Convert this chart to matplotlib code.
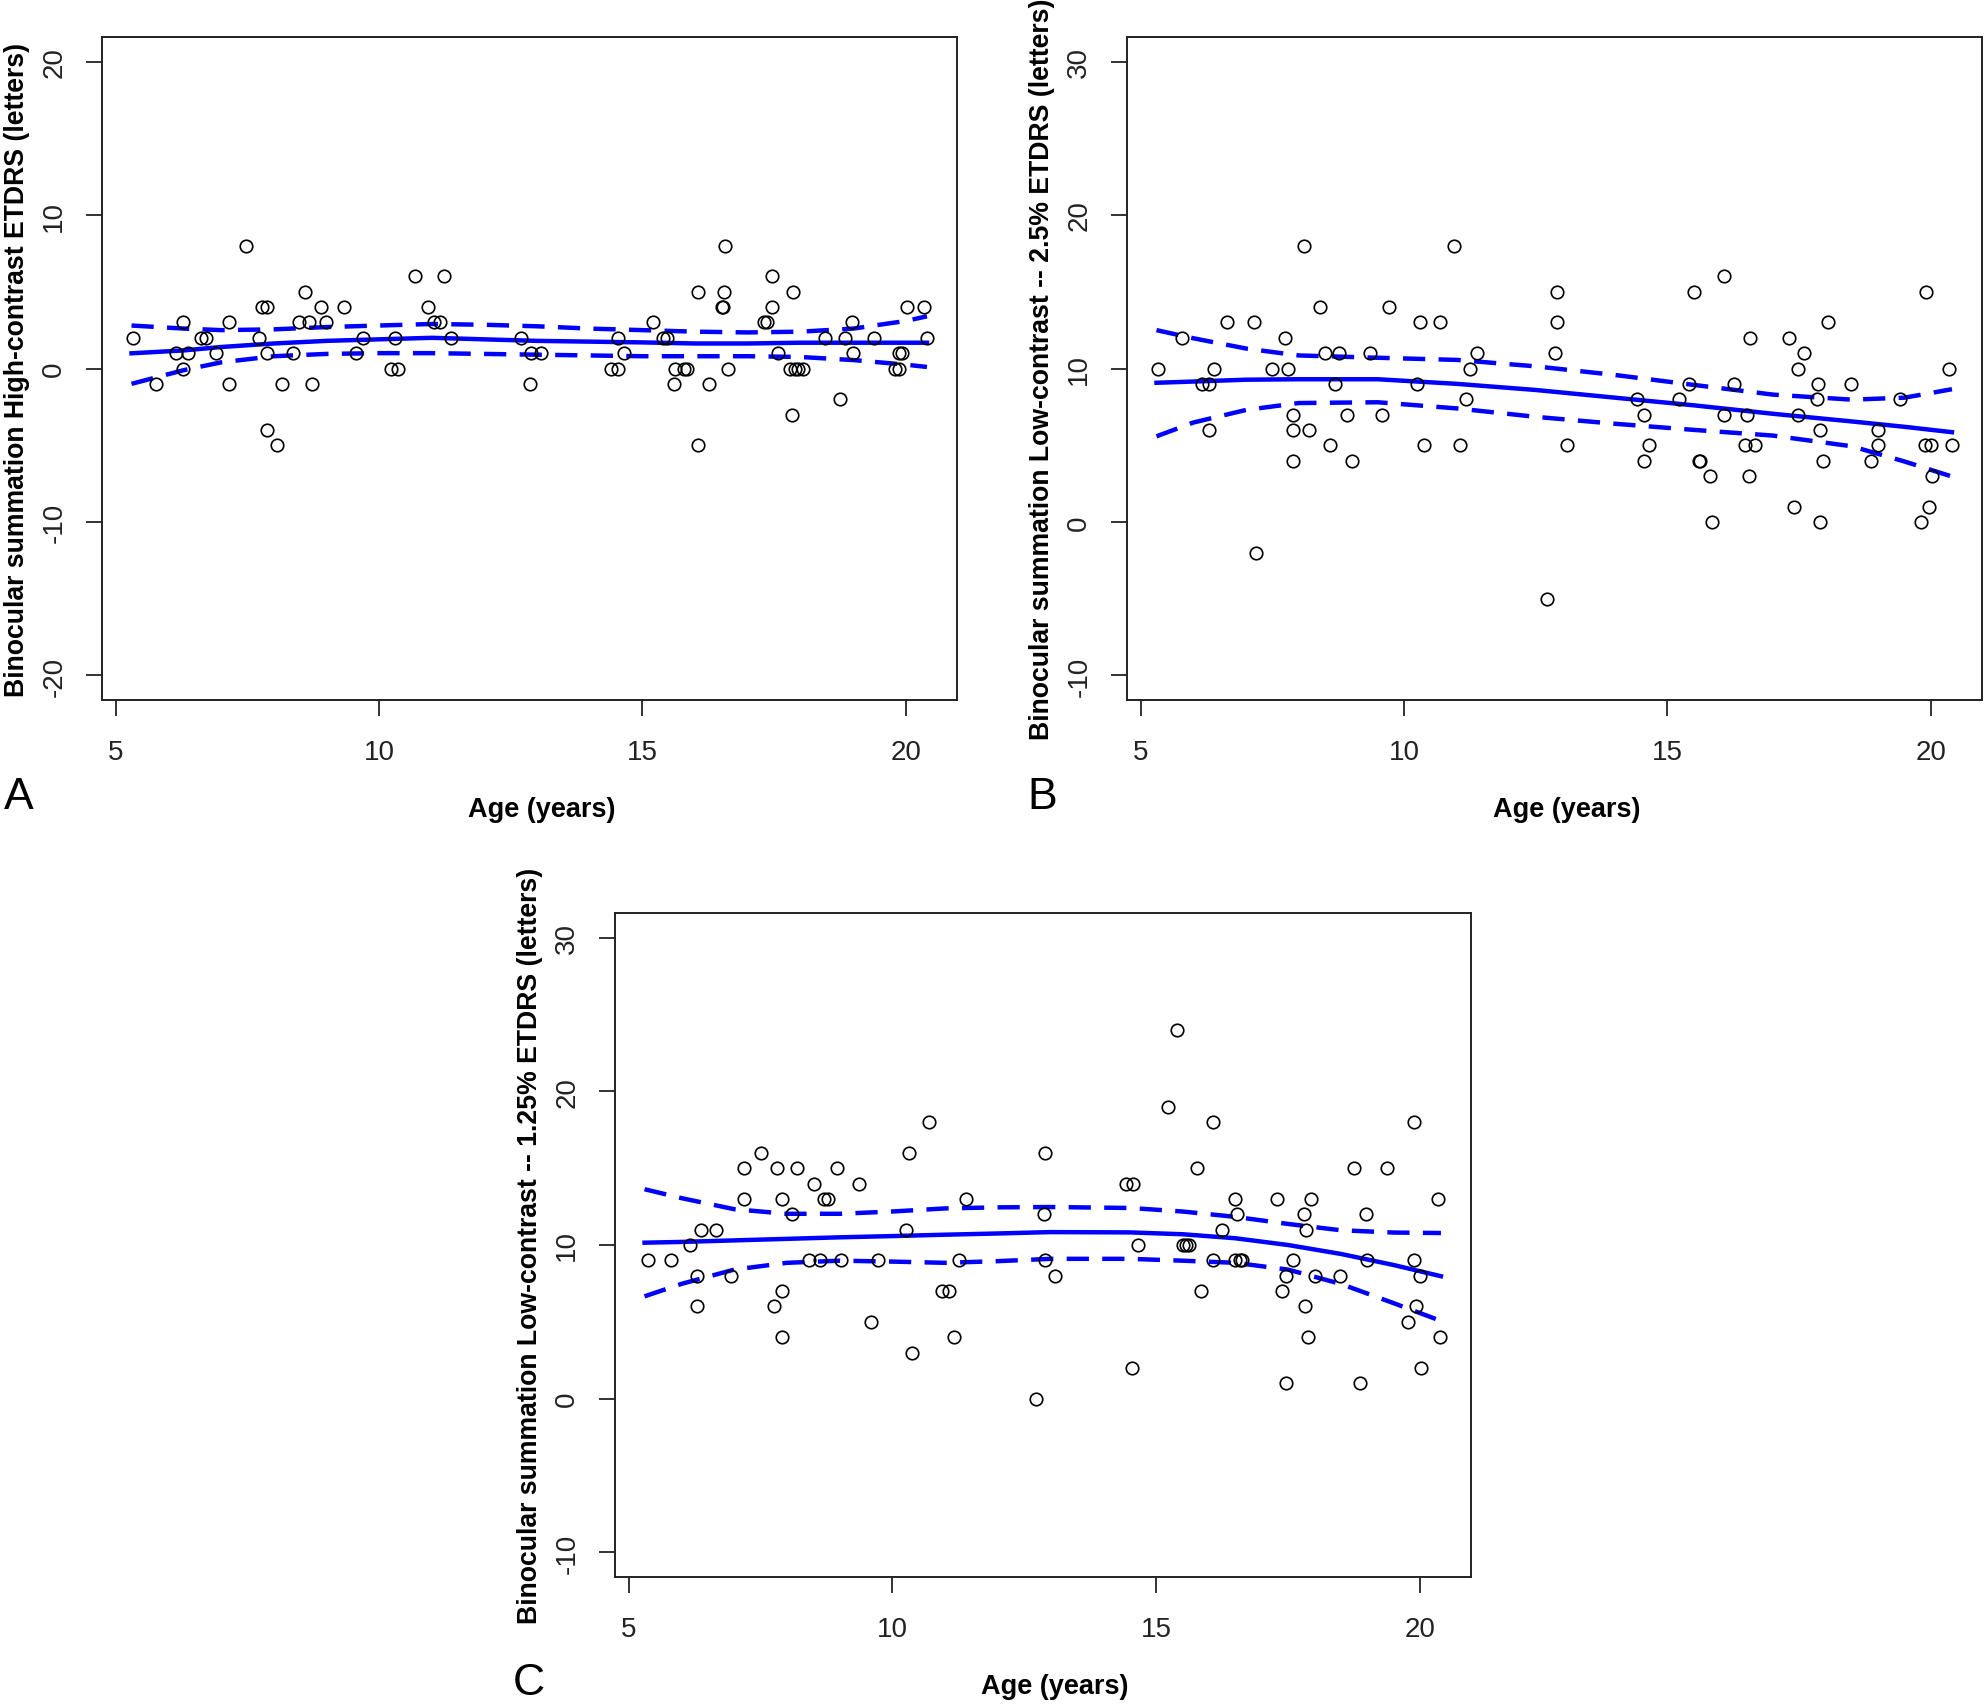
import numpy as np
import matplotlib.pyplot as plt

plt.rcParams['font.family'] = ['Liberation Sans', 'DejaVu Sans']
plt.rcParams['axes.unicode_minus'] = False

# Panel A - high-contrast ETDRS
age_a = [5.32, 5.76, 6.14, 6.27, 6.27, 6.37, 6.61, 6.71, 6.90, 7.15, 7.15, 7.47, 7.72, 7.77, 7.88,
         7.88, 7.88, 8.07, 8.16, 8.37, 8.48, 8.59, 8.67, 8.73, 8.90, 8.99, 9.34, 9.57, 9.69, 10.22,
         10.30, 10.35, 10.68, 10.93, 11.05, 11.15, 11.24, 11.37, 12.70, 12.86, 12.89, 13.07, 14.41,
         14.54, 14.54, 14.64, 15.20, 15.39, 15.46, 15.59, 15.62, 15.78, 15.84, 16.05, 16.05, 16.26,
         16.50, 16.52, 16.54, 16.56, 16.62, 17.30, 17.37, 17.45, 17.45, 17.57, 17.83, 17.86, 17.80,
         17.90, 17.95, 18.04, 18.46, 18.74, 18.85, 18.97, 19.00, 19.39, 19.79, 19.87, 19.87, 19.93,
         20.03, 20.35, 20.40]
bs_a = [2, -1, 1, 3, 0, 1, 2, 2, 1, 3, -1, 8, 2, 4, 4, 1, -4, -5, -1, 1, 3, 5, 3, -1, 4, 3, 4, 1, 2,
        0, 2, 0, 6, 4, 3, 3, 6, 2, 2, -1, 1, 1, 0, 0, 2, 1, 3, 2, 2, -1, 0, 0, 0, 5, -5, -1, 4, 4, 5,
        8, 0, 3, 3, 4, 6, 1, -3, 5, 0, 0, 0, 0, 2, -2, 2, 3, 1, 2, 0, 0, 1, 1, 4, 4, 2]
fit_x_a = [5.3, 6.3, 7.0, 8.0, 9.0, 10.0, 11.0, 12.0, 13.0, 14.0, 15.0, 16.0, 17.0, 18.0, 19.0, 20.0, 20.4]
fit_a = [0.99, 1.18, 1.4, 1.63, 1.8, 1.9, 2.0, 1.9, 1.8, 1.75, 1.7, 1.63, 1.63, 1.68, 1.68, 1.68, 1.68]
upper_a = [2.8, 2.6, 2.5, 2.55, 2.7, 2.8, 2.9, 2.85, 2.75, 2.6, 2.5, 2.4, 2.35, 2.4, 2.6, 3.1, 3.4]
lower_a = [-1.0, -0.1, 0.4, 0.8, 0.95, 1.0, 1.0, 0.95, 0.9, 0.85, 0.8, 0.8, 0.8, 0.75, 0.55, 0.25, 0.1]

# Panel B - low-contrast 2.5%
age_b = [5.33, 5.79, 6.16, 6.29, 6.29, 6.40, 6.64, 7.16, 7.18, 7.50, 7.74, 7.80, 7.90, 7.90, 7.90,
         8.10, 8.19, 8.41, 8.50, 8.60, 8.69, 8.77, 8.91, 9.02, 9.35, 9.59, 9.71, 10.25, 10.31, 10.37,
         10.68, 10.94, 11.07, 11.17, 11.25, 11.39, 12.71, 12.87, 12.90, 12.90, 13.09, 14.42, 14.55,
         14.55, 14.65, 15.22, 15.40, 15.50, 15.59, 15.62, 15.80, 15.85, 16.08, 16.08, 16.26, 16.47,
         16.50, 16.55, 16.57, 16.66, 17.31, 17.40, 17.47, 17.47, 17.60, 17.83, 17.85, 17.89, 17.89,
         17.95, 18.04, 18.48, 18.86, 19.00, 19.00, 19.41, 19.82, 19.88, 19.91, 19.97, 20.00, 20.02,
         20.35, 20.41]
bs_b = [10, 12, 9, 9, 6, 10, 13, 13, -2, 10, 12, 10, 7, 6, 4, 18, 6, 14, 11, 5, 9, 11, 7, 4, 11, 7,
        14, 9, 13, 5, 13, 18, 5, 8, 10, 11, -5, 11, 13, 15, 5, 8, 7, 4, 5, 8, 9, 15, 4, 4, 3, 0, 16,
        7, 9, 5, 7, 3, 12, 5, 12, 1, 10, 7, 11, 8, 9, 6, 0, 4, 13, 9, 4, 6, 5, 8, 0, 5, 15, 1, 5, 3,
        10, 5]
fit_x_b = [5.3, 6.0, 7.0, 8.0, 9.5, 11.0, 12.5, 14.0, 15.5, 17.0, 18.5, 19.5, 20.4]
fit_b = [9.07, 9.15, 9.27, 9.3, 9.3, 9.0, 8.6, 8.1, 7.6, 7.05, 6.55, 6.2, 5.85]
upper_b = [12.5, 11.97, 11.3, 10.85, 10.7, 10.56, 10.14, 9.58, 8.93, 8.3, 7.97, 8.1, 8.65]
lower_b = [5.58, 6.48, 7.3, 7.75, 7.8, 7.4, 6.85, 6.4, 6.0, 5.63, 4.93, 3.94, 2.96]

# Panel C - low-contrast 1.25%
age_c = [5.36, 5.80, 6.17, 6.30, 6.30, 6.38, 6.65, 6.94, 7.18, 7.18, 7.50, 7.75, 7.82, 7.91, 7.91,
         7.91, 8.10, 8.20, 8.41, 8.51, 8.62, 8.70, 8.77, 8.94, 9.03, 9.37, 9.59, 9.72, 10.25, 10.31,
         10.38, 10.70, 10.94, 11.07, 11.17, 11.26, 11.39, 12.72, 12.88, 12.90, 12.90, 13.09, 14.42,
         14.55, 14.56, 14.65, 15.22, 15.40, 15.50, 15.57, 15.63, 15.78, 15.85, 16.08, 16.08, 16.25,
         16.50, 16.50, 16.54, 16.59, 16.63, 17.30, 17.39, 17.46, 17.46, 17.59, 17.80, 17.83, 17.84,
         17.88, 17.94, 18.02, 18.48, 18.76, 18.86, 18.97, 19.00, 19.38, 19.78, 19.89, 19.89, 19.93,
         20.00, 20.02, 20.34, 20.39]
bs_c = [9, 9, 10, 8, 6, 11, 11, 8, 13, 15, 16, 6, 15, 13, 7, 4, 12, 15, 9, 14, 9, 13, 13, 15, 9, 14,
        5, 9, 11, 16, 3, 18, 7, 7, 4, 9, 13, 0, 12, 16, 9, 8, 14, 2, 14, 10, 19, 24, 10, 10, 10, 15,
        7, 18, 9, 11, 13, 9, 12, 9, 9, 13, 7, 8, 1, 9, 12, 6, 11, 4, 13, 8, 8, 15, 1, 12, 9, 15, 5,
        18, 9, 6, 8, 2, 13, 4]
fit_x_c = [5.3, 6.0, 7.0, 8.0, 9.0, 10.0, 11.0, 12.0, 13.0, 14.5, 15.5, 16.5, 17.5, 18.5, 19.5, 20.4]
fit_c = [10.15, 10.2, 10.3, 10.4, 10.5, 10.58, 10.67, 10.75, 10.84, 10.82, 10.7, 10.44, 10.0, 9.42, 8.7, 7.97]
upper_c = [13.63, 13.05, 12.33, 12.03, 12.03, 12.18, 12.38, 12.45, 12.47, 12.41, 12.18, 11.83, 11.37, 10.96, 10.81, 10.78]
lower_c = [6.66, 7.47, 8.4, 8.84, 8.98, 8.92, 8.84, 8.95, 9.1, 9.1, 8.98, 8.84, 8.4, 7.47, 6.22, 5.06]

W, H = 1985, 1706
fig = plt.figure(figsize=(W / 100, H / 100), dpi=100, facecolor='white')


def px_axes(x0, y0, x1, y1):
    # axes box from pixel corners (top-left origin)
    return fig.add_axes([x0 / W, 1 - y1 / H, (x1 - x0) / W, (y1 - y0) / H])


def panel(ax, age, bs, fx, fit, up, lo, ylim, yticks, ylabel):
    ax.plot(age, bs, 'o', mfc='none', mec='black', ms=9, mew=1.2, zorder=3)
    ax.plot(fx, fit, color='#0000ff', lw=3.2, zorder=2)
    ax.plot(fx, up, color='#0000ff', lw=3.2, ls=(0, (5, 3)), zorder=2)
    ax.plot(fx, lo, color='#0000ff', lw=3.2, ls=(0, (5, 3)), zorder=2)
    ax.set_xlim(4.74, 20.97)
    ax.set_ylim(*ylim)
    ax.set_xticks([5, 10, 15, 20])
    ax.set_yticks(yticks)
    ax.tick_params(direction='out', length=11.5, width=1.3, labelsize=20, pad=16.5, colors='#222222')
    ax.tick_params(axis='y', labelrotation=90, pad=13.5)
    for lab in ax.get_yticklabels():
        lab.set_va('center')
    for s in ax.spines.values():
        s.set_linewidth(1.4)
        s.set_color('#222222')
    ax.set_xlabel('Age (years)', fontsize=19.5, fontweight='bold', labelpad=27)
    ax.xaxis.set_label_coords(0.514, -0.145)
    ax.set_ylabel(ylabel, fontsize=19.2, fontweight='bold', labelpad=8)


ax_a = px_axes(102, 38, 957, 701)
panel(ax_a, age_a, bs_a, fit_x_a, fit_a, upper_a, lower_a, (-21.6, 21.6), [-20, -10, 0, 10, 20],
      'Binocular summation High-contrast ETDRS (letters)')

ax_b = px_axes(1127, 38, 1982, 701)
panel(ax_b, age_b, bs_b, fit_x_b, fit_b, upper_b, lower_b, (-11.6, 31.6), [-10, 0, 10, 20, 30],
      'Binocular summation Low-contrast -- 2.5% ETDRS (letters)')

ax_c = px_axes(615, 914, 1471, 1578)
panel(ax_c, age_c, bs_c, fit_x_c, fit_c, upper_c, lower_c, (-11.6, 31.6), [-10, 0, 10, 20, 30],
      'Binocular summation Low-contrast -- 1.25% ETDRS (letters)')

fig.text(19 / W, 1 - 798 / H, 'A', fontsize=32, ha='center', va='center')
fig.text(1042 / W, 1 - 798 / H, 'B', fontsize=32, ha='center', va='center')
fig.text(529 / W, 1 - 1684 / H, 'C', fontsize=32, ha='center', va='center')

fig.savefig('out.png', dpi=100, facecolor='white')
